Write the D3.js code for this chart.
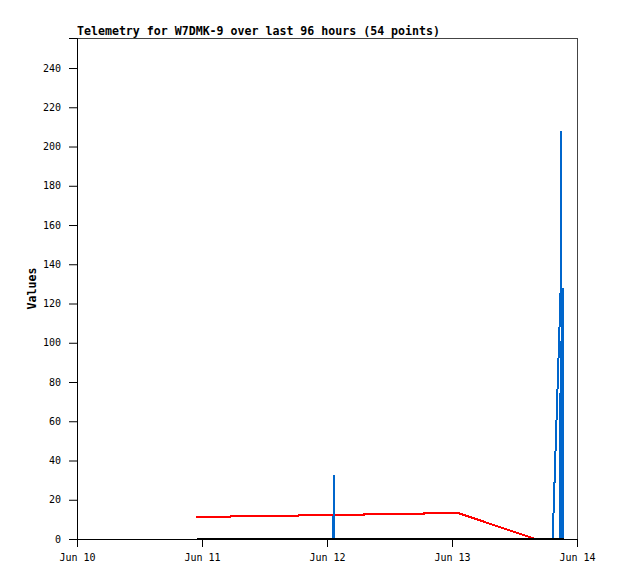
<!DOCTYPE html>
<html>
<head>
<meta charset="utf-8">
<script src="https://cdn.jsdelivr.net/npm/d3@7"></script>
<style>
  html, body { margin: 0; padding: 0; background: #fff; }
  svg { display: block; }
  text { font-family: "DejaVu Sans Mono", "Liberation Mono", monospace; }
</style>
</head>
<body>
<svg id="chart" width="618" height="579"></svg>
<script>
// ---- data ----
const title = "Telemetry for W7DMK-9 over last 96 hours (54 points)";
const yLabel = "Values";
const xTickDates = ["2024-06-10", "2024-06-11", "2024-06-12", "2024-06-13", "2024-06-14"];
const xTickLabels = ["Jun 10", "Jun 11", "Jun 12", "Jun 13", "Jun 14"];
const yTicks = [0, 20, 40, 60, 80, 100, 120, 140, 160, 180, 200, 220, 240];

const blackTimes = ["2024-06-10T23:00", "2024-06-13T21:30"];
const blackValues = [0, 0];

const redTimes = ["2024-06-10T22:50", "2024-06-11T05:30", "2024-06-11T05:35", "2024-06-11T18:35",
  "2024-06-11T18:40", "2024-06-12T07:05", "2024-06-12T07:10", "2024-06-12T18:35",
  "2024-06-12T18:40", "2024-06-13T01:00", "2024-06-13T16:00", "2024-06-13T21:30"];
const redValues = [11.4, 11.4, 11.9, 11.9, 12.4, 12.4, 12.9, 12.9, 13.4, 13.4, 0, 0];

const blueTimes = ["2024-06-10T23:00", "2024-06-12T01:14", "2024-06-12T01:17", "2024-06-12T01:20",
  "2024-06-13T19:20", "2024-06-13T20:50", "2024-06-13T21:00", "2024-06-13T21:04",
  "2024-06-13T20:45", "2024-06-13T20:52", "2024-06-13T21:06", "2024-06-13T21:12",
  "2024-06-13T21:17", "2024-06-13T21:22"];
const blueValues = [0, 0, 32.6, 0, 0, 124, 208, 0, 0, 101, 0, 128, 0, 128];

// ---- chart ----
(function () {
const parse = d3.utcParse("%Y-%m-%dT%H:%M");
const parseDay = d3.utcParse("%Y-%m-%d");
const svg = d3.select("#chart");
const mLeft = 77, mRight = 577, mTop = 38, mBottom = 539;

const x = d3.scaleUtc()
  .domain([parseDay("2024-06-10"), parseDay("2024-06-14")])
  .range([mLeft, mRight]);
const y = d3.scaleLinear().domain([0, 255.3]).range([mBottom, mTop]);

// frame
svg.append("rect")
  .attr("x", mLeft + 0.5).attr("y", mTop + 0.5)
  .attr("width", mRight - mLeft).attr("height", mBottom - mTop)
  .attr("fill", "none").attr("stroke", "#444").attr("stroke-width", 1);

function series(times, values) {
  return times.map((t, i) => ({ t: parse(t), v: values[i] }));
}
const line = d3.line().x(d => x(d.t)).y(d => y(d.v));

svg.append("path").datum(series(redTimes, redValues))
  .attr("d", line).attr("fill", "none").attr("stroke", "#ff0000").attr("stroke-width", 2)
  .attr("shape-rendering", "crispEdges");
svg.append("path").datum(series(blueTimes, blueValues))
  .attr("d", line).attr("fill", "none").attr("stroke", "#0066cc").attr("stroke-width", 2)
  .attr("stroke-linejoin", "bevel").attr("shape-rendering", "crispEdges");
svg.append("path").datum(series(blackTimes, blackValues))
  .attr("d", line).attr("fill", "none").attr("stroke", "#000").attr("stroke-width", 2)
  .attr("transform", "translate(0,-0.5)").attr("shape-rendering", "crispEdges");

// axes
const yAxis = d3.axisLeft(y).tickValues(yTicks).tickSize(8).tickPadding(8).tickFormat(d3.format("d"));
const gy = svg.append("g").attr("transform", `translate(${mLeft},0)`).call(yAxis);
gy.select(".domain").attr("stroke", "#000");
gy.selectAll("text").attr("font-size", "10px").attr("fill", "#000");

const xAxis = d3.axisBottom(x)
  .tickValues(xTickDates.map(parseDay))
  .tickSize(8).tickPadding(7)
  .tickFormat((d, i) => xTickLabels[i]);
const gx = svg.append("g").attr("transform", `translate(0,${mBottom})`).call(xAxis);
gx.select(".domain").attr("stroke", "#000");
gx.selectAll("text").attr("font-size", "10px").attr("fill", "#000");

// title
svg.append("text")
  .attr("x", mLeft).attr("y", 35)
  .attr("font-size", "11.6px").attr("font-weight", "bold")
  .text(title);

// y label
svg.append("text")
  .attr("transform", `translate(36,${(mTop + mBottom) / 2}) rotate(-90)`)
  .attr("text-anchor", "middle")
  .attr("font-size", "11.6px").attr("font-weight", "bold")
  .text(yLabel);
})();
</script>
</body>
</html>
